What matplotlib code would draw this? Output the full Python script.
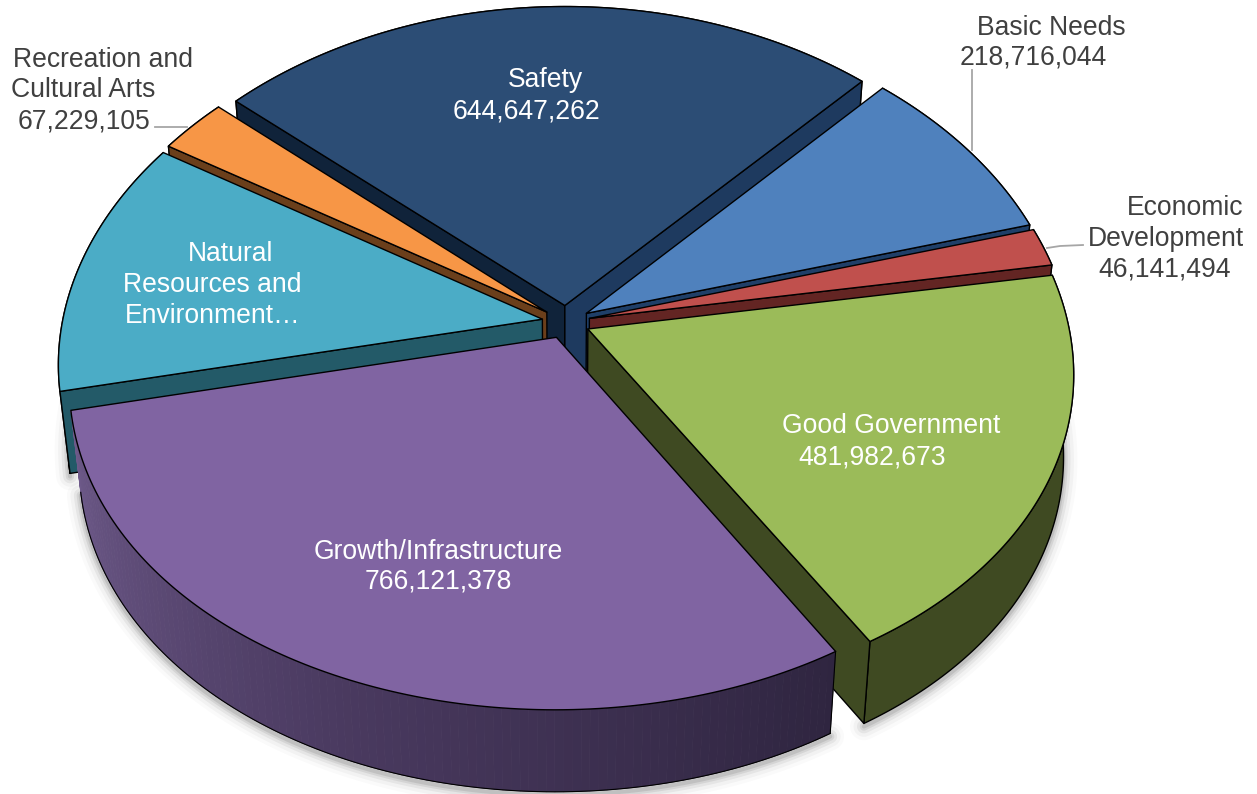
import numpy as np
import matplotlib
matplotlib.use("Agg")
import matplotlib.pyplot as plt
from matplotlib.patches import Polygon
from matplotlib.colors import to_rgb

plt.rcParams['font.family'] = ['Liberation Sans', 'DejaVu Sans']

# slices in clockwise order, starting at the left edge of Safety
names = ["Safety", "Basic Needs", "Economic Development", "Good Government",
         "Growth/Infrastructure", "Natural Resources and Environment",
         "Recreation and Cultural Arts"]
values = [644647262, 218716044, 46141494, 481982673, 766121378, 312000000, 67229105]

top_colors = ["#2C4D75", "#4F81BD", "#C0504D", "#9BBB59", "#8064A2", "#4BACC6", "#F79646"]
face_a = ["#10233A", "#1F3F68", "#632523", "#3F4A22", "#5A4672", "#235A68", "#6B3F1B"]
face_b = ["#1E3A5F", "#1F3F68", "#632523", "#3F4A22", "#2F2540", "#235A68", "#6B3F1B"]
wall_colors = ["#1E3A5F", "#2E4F7C", "#7A302E", "#3F4A22", None, "#235A68", "#8A5320"]

# the order the slices get painted, back to front
paint_order = [0, 1, 2, 6, 5, 3, 4]

start_deg = -48.5
cx, cy = 566.0, 322.0
rx, ry = 480.0, 332.0
persp_x, persp_y = 0.13, 0.10
explode = 0.05
depth = 82.0
shrink = 0.98


def project(u, v):
    return cx + rx * u / (1 - persp_x * v), cy + ry * v / (1 - persp_y * v)


def lower(x, y):
    return cx + (x - cx) * shrink, y + depth


def slice_points(t0, t1):
    mid = (t0 + t1) / 2
    ox, oy = explode * np.sin(mid), -explode * np.cos(mid)
    t = np.linspace(t0, t1, 120)
    ax_, ay_ = project(ox, oy)
    bx, by = project(ox + np.sin(t), oy - np.cos(t))
    return (ax_, ay_), bx, by


def face_visible(apex, ex, ey, mx, my):
    # a cut face shows only if the slice lies above its radial edge on screen
    if abs(ex - apex[0]) < 1e-6:
        return False
    line_y = apex[1] + (ey - apex[1]) * (mx - apex[0]) / (ex - apex[0])
    return my < line_y


fig = plt.figure(figsize=(12.57, 7.94), dpi=100)
ax = fig.add_axes([0, 0, 1, 1])
ax.set_xlim(0, 1257)
ax.set_ylim(794, 0)
ax.axis("off")

fractions = np.array(values) / sum(values)
edges = np.radians(start_deg + 360 * np.concatenate([[0], np.cumsum(fractions)]))
geo = [slice_points(edges[i], edges[i + 1]) for i in range(len(values))]

# soft shadow round the bottom of the pie
for i in (3, 4, 5):
    _, bx, by = geo[i]
    lx, ly = lower(bx, by)
    for lw, al in zip((20, 15, 10, 6, 3), (0.02, 0.03, 0.05, 0.07, 0.09)):
        ax.plot(lx, ly + 3, color="black", lw=lw, alpha=al, solid_capstyle="round", zorder=1)

line = dict(edgecolor="black", linewidth=1.0, joinstyle="round")
for i in paint_order:
    (ax_, ay_), bx, by = geo[i]
    lax, lay = lower(ax_, ay_)
    lx, ly = lower(bx, by)
    mx, my = bx[60], by[60]

    # outer wall
    if wall_colors[i] is None:
        # growth wall gets darker from left to right
        c0, c1, c2 = [np.array(to_rgb(c)) for c in ("#6E5A8A", "#4A3A60", "#2F2540")]
        n = len(bx) - 1
        for k in range(n):
            f = (k + 0.5) / n
            col = c2 + (c1 - c2) * f / 0.5 if f < 0.5 else c1 + (c0 - c1) * (f - 0.5) / 0.5
            pts = [(bx[k], by[k]), (bx[k + 1], by[k + 1]), (lx[k + 1], ly[k + 1]), (lx[k], ly[k])]
            ax.add_patch(Polygon(pts, closed=True, facecolor=col, edgecolor=col, linewidth=0.6, zorder=2))
        ax.plot(lx, ly, color="black", lw=0.8, zorder=2)
        ax.plot([bx[0], lx[0]], [by[0], ly[0]], color="black", lw=0.8, zorder=2)
    else:
        pts = np.concatenate([np.c_[bx, by], np.c_[lx, ly][::-1]])
        ax.add_patch(Polygon(pts, closed=True, facecolor=wall_colors[i], zorder=2, **line))

    # the cut faces that can be seen
    for j, col in ((0, face_a[i]), (-1, face_b[i])):
        if face_visible((ax_, ay_), bx[j], by[j], mx, my):
            pts = [(ax_, ay_), (bx[j], by[j]), (lx[j], ly[j]), (lax, lay)]
            ax.add_patch(Polygon(pts, closed=True, facecolor=col, zorder=2, **line))

    # top
    pts = np.concatenate([[(ax_, ay_)], np.c_[bx, by]])
    ax.add_patch(Polygon(pts, closed=True, facecolor=top_colors[i], zorder=2, **line))

# leader lines
for xs, ys in (([155, 187], [127, 127]), ([972, 972], [70, 150]), ([1083, 1060, 1047], [245, 246, 248])):
    ax.plot(xs, ys, color="#A6A6A6", lw=1.3, zorder=3)

# labels
dark = "#404040"
fs = 19.1
labels = [
    ("Safety", 545, 80, "center", "white"),
    ("644,647,262", 527, 111, "center", "white"),
    ("Natural", 231, 254, "center", "white"),
    ("Resources and", 212, 285, "center", "white"),
    ("Environment\u2026", 213, 316, "center", "white"),
    ("Good Government", 891, 426, "center", "white"),
    ("481,982,673", 872, 457, "center", "white"),
    ("Growth/Infrastructure", 438, 552, "center", "white"),
    ("766,121,378", 438, 582, "center", "white"),
    ("Basic Needs", 1051, 28, "center", dark),
    ("218,716,044", 1033, 58, "center", dark),
    ("Economic", 1243, 208, "right", dark),
    ("Development", 1244, 239, "right", dark),
    ("46,141,494", 1165, 270, "center", dark),
    ("Recreation and", 13, 60, "left", dark),
    ("Cultural Arts", 11, 90, "left", dark),
    ("67,229,105", 18, 121, "left", dark),
]
for txt, x, y, ha, col in labels:
    ax.text(x, y, txt, ha=ha, va="center", fontsize=fs, color=col, zorder=4)

fig.savefig("out.png", dpi=100, facecolor="white")
